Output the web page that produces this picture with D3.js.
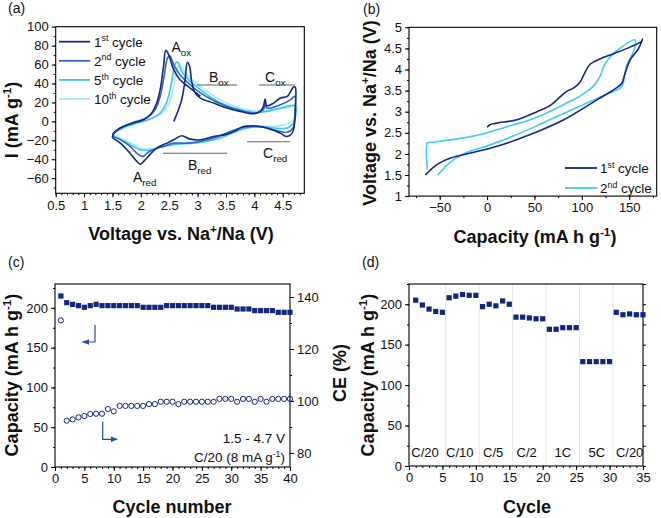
<!DOCTYPE html>
<html><head><meta charset="utf-8">
<script src="https://cdn.jsdelivr.net/npm/d3@7/dist/d3.min.js"></script>
<style>
body{margin:0;background:#fff}
svg{display:block}
text{font-family:"Liberation Sans",Arial,sans-serif;fill:#111}
</style>
</head><body>
<svg id="fig" width="661" height="518"></svg>
<script>
// ---------- DATA ----------
// (a) cyclic voltammetry: [voltage V, current mA/g]
const cv1 = [[2.58,0],[2.64,8.7],[2.72,22.9],[2.78,44],[2.82,62.4],[2.86,58],[2.9,40.5],[2.96,30],[3.05,24.6],[3.28,19.3],[3.52,14],[3.75,10.5],[3.99,8],[4.1,10.5],[4.16,15.8],[4.19,23.5],[4.22,16.5],[4.34,19.3],[4.46,24.6],[4.58,26.4],[4.69,36.3],[4.72,36.3],
 [4.72,12],[4.69,-9],[4.64,-14.4],[4.56,-16],[4.46,-12.6],[4.22,-7],[3.99,-4.7],[3.81,-5.4],[3.64,-10.6],[3.52,-13.5],[3.28,-16],[3.05,-19.5],[2.87,-18.8],[2.72,-15.2],[2.58,-19.5],[2.46,-23],[2.28,-28.2],[2.16,-35.2],[2.05,-42.3],[1.99,-45.2],[1.93,-42.3],[1.81,-33.6],[1.64,-23],[1.51,-17.7],[1.5,-16],
 [1.55,-10.6],[1.69,-5.4],[1.87,-1.8],[2.05,1.7],[2.19,8.7],[2.28,19.3],[2.34,33.5],[2.4,58],[2.44,75],[2.49,70.5],[2.58,54.6],[2.69,44],[2.87,35.2],[3.05,26.4]];
const cv2 = [[1.5,-14],[1.64,-7],[1.87,-1],[2.1,3.5],[2.25,12.3],[2.34,26.4],[2.41,47.5],[2.47,67],[2.51,69.3],[2.58,60],[2.69,49.3],[2.87,38.7],[3.05,30],[3.28,22],[3.52,15.8],[3.75,11.6],[3.99,8.8],[4.16,12.3],[4.19,19.3],[4.22,14],[4.46,17.6],[4.64,22.9],[4.71,26.4],
 [4.72,8.8],[4.68,-7],[4.58,-11.6],[4.4,-9.8],[4.16,-6.3],[3.99,-5.3],[3.75,-7],[3.52,-12.3],[3.28,-17.6],[3.05,-21],[2.81,-23],[2.58,-23],[2.4,-26.4],[2.22,-30],[2.11,-33.6],[2.04,-37],[1.96,-35.2],[1.81,-26.4],[1.64,-19.3],[1.5,-16]];
const cv5 = [[1.5,-13],[1.69,-7],[1.93,-1.8],[2.16,2.5],[2.34,8.8],[2.46,21],[2.55,44],[2.61,61.6],[2.65,62.4],[2.72,52.8],[2.87,42.3],[3.05,33.5],[3.28,23.5],[3.52,16.5],[3.75,12.3],[3.99,9.5],[4.22,10.5],[4.46,14],[4.72,16.5],
 [4.72,3.5],[4.68,-2.5],[4.58,-7],[4.34,-7],[4.1,-5.3],[3.87,-7],[3.64,-11.6],[3.4,-17.6],[3.16,-21],[2.93,-23],[2.69,-23.6],[2.46,-25.7],[2.28,-28.2],[2.16,-30.6],[1.99,-30],[1.81,-24.6],[1.64,-19.3],[1.5,-15]];
const cv10 = [[1.5,-12.3],[1.75,-5.3],[1.99,-1],[2.22,3.5],[2.4,10.5],[2.52,23],[2.59,42.3],[2.65,58],[2.69,60],[2.78,51],[2.93,42.3],[3.11,34],[3.34,24.6],[3.58,17.6],[3.81,13],[4.05,11],[4.28,12.3],[4.52,14],[4.72,15],
 [4.72,5.3],[4.64,-1],[4.46,-4.5],[4.22,-5.3],[3.99,-6.3],[3.75,-8.8],[3.52,-14],[3.28,-18.6],[3.05,-22],[2.81,-23.6],[2.58,-24.6],[2.4,-26.4],[2.22,-29],[2.05,-29],[1.87,-24.6],[1.69,-19.3],[1.5,-14]];
const cvNames = ["1st","2nd","5th","10th"];

// (b) galvanostatic profiles: [capacity mAh/g, voltage V]
const gcd1 = [[0,2.63],[3,2.69],[10.5,2.73],[31.6,2.81],[52.6,3.0],[66.7,3.15],[77,3.35],[84,3.48],[91,3.56],[98,3.7],[103.5,3.94],[109,4.13],[119,4.25],[133,4.37],[151,4.53],[163,4.67],[164,4.72],
 [160,4.5],[151,4.23],[145.7,3.91],[142,3.67],[135,3.54],[116,3.28],[81,2.81],[45.6,2.46],[10.5,2.18],[-17.5,2.02],[-38.6,1.9],[-52.6,1.75],[-63,1.55],[-65,1.5]];
const gcd2 = [[-63,1.63],[-63,2.26],[-60,2.27],[-42,2.32],[-24.6,2.38],[-7,2.46],[10.5,2.57],[28,2.69],[45.6,2.81],[63,2.97],[81,3.17],[98,3.37],[112,3.6],[119,3.83],[123,4.07],[130,4.3],[140,4.5],[156,4.7],
 [154.5,4.42],[147.5,4.11],[145,3.87],[142,3.59],[125,3.4],[100,3.15],[75,2.9],[50,2.64],[25,2.4],[0,2.19],[-25,2.0],[-40,1.78],[-52,1.5]];

// (c) cycling at C/20
const capC = [214.9,206.5,204.4,202.8,200.7,202.8,204.4,202.8,202.8,202.8,202.8,202.8,202.8,202.8,200.7,200.7,200.7,200.7,202.8,202.8,202.8,202.8,202.8,202.8,202.8,202.8,200.7,200.7,200.7,200.7,198.6,198.6,198.6,196.5,196.5,196.5,196.5,194.4,194.4,194.4];
const ceC = [131,92.4,92.9,93.7,94.2,95,95.1,95.1,96.9,96,98.1,98.1,98.1,98.1,98.1,98.8,98.8,99.7,99.7,99.7,98.8,99.7,99.7,99.7,99.7,99.7,99.7,100.8,100.8,100.8,99.7,100.8,100.8,99.7,100.8,99.7,100.8,100.8,100.8,100.8];

// (d) rate capability
const capD = [205,199,194,191,190,208,210,212,211,211,197,200,198,204,200,184,184,183,182,182,169,169,171,171,171,129,129,129,129,129,190,187,188,187,187];
const rateLabels = ["C/20","C/10","C/5","C/2","1C","5C","C/20"];
const ratePos = [2.4,7.6,12.6,17.6,23,28.1,33];
const rateBounds = [5.5,10.5,15.5,20.5,25.5,30.5];

// ---------- DRAWING ----------
const svg = d3.select("#fig");
const navy = "#14257d";
const cvColors = ["#142a85","#2a66cf","#41c3ea","#9aeefb"];
const FONT_T = 13, FONT_TITLE = 18;

function frame(g, x0, x1, y0, y1){
  g.append("rect").attr("x",x0).attr("y",y0).attr("width",x1-x0).attr("height",y1-y0)
   .attr("fill","none").attr("stroke","#000").attr("stroke-width",1.1);
}
function axes(g, x, y, xMajor, xMinor, yMajor, yMinor, xfmt, yfmt){
  const [y0,y1] = y.range(); const [x0,x1] = x.range();
  const gx = g.append("g").attr("transform",`translate(0,${y0})`)
    .call(d3.axisBottom(x).tickValues(xMajor).tickSize(4).tickPadding(3).tickFormat(xfmt||d3.format("")));
  g.append("g").attr("transform",`translate(0,${y0})`)
    .call(d3.axisBottom(x).tickValues(xMinor).tickSize(2).tickFormat(""));
  const gy = g.append("g").attr("transform",`translate(${x0},0)`)
    .call(d3.axisLeft(y).tickValues(yMajor).tickSize(4).tickPadding(3).tickFormat(yfmt||d3.format("")));
  g.append("g").attr("transform",`translate(${x0},0)`)
    .call(d3.axisLeft(y).tickValues(yMinor).tickSize(2).tickFormat(""));
  g.selectAll(".domain").remove();
  g.selectAll(".tick line").attr("stroke","#000");
  g.selectAll(".tick text").attr("font-size",FONT_T).attr("fill","#111");
}
function label(t, x, y){ svg.append("text").attr("x",x).attr("y",y).attr("font-size",14).text(t); }
function sup(el, base, supTxt, rest, size){
  el.append("tspan").text(base);
  el.append("tspan").attr("dy",-size*0.4).attr("font-size",size*0.65).text(supTxt);
  el.append("tspan").attr("dy",size*0.4).text(rest);
}
function sub(el, base, subTxt, size){
  el.append("tspan").text(base);
  el.append("tspan").attr("dy",size*0.3).attr("font-size",size*0.7).text(subTxt);
}
function rng(a,b,s){ const r=[]; for(let v=a; v<=b+1e-9; v+=s) r.push(+v.toFixed(4)); return r; }

// ===== Panel (a) =====
{
  const g = svg.append("g");
  const x = d3.scaleLinear().domain([0.5,4.88]).range([55.7,304.3]);
  const y = d3.scaleLinear().domain([-76,100]).range([193.3,26.7]);
  axes(g, x, y, rng(0.5,4.5,0.5), rng(0.5,4.8,0.1), rng(-60,100,20), rng(-70,100,10), d3.format("~g"));
  const line = d3.line().x(d=>x(d[0])).y(d=>y(d[1])).curve(d3.curveCatmullRom.alpha(0.5));
  const series = [cv10,cv5,cv2,cv1];
  const cols = [cvColors[3],cvColors[2],cvColors[1],cvColors[0]];
  series.forEach((s,i)=>g.append("path").attr("d",line(s)).attr("fill","none").attr("stroke",cols[i]).attr("stroke-width",1.6));
  frame(g,55.7,304.3,26.7,193.3);
  // legend
  cvNames.forEach((n,i)=>{
    const ly = 41.7 + i*19.1;
    g.append("line").attr("x1",59).attr("x2",90).attr("y1",ly).attr("y2",ly).attr("stroke",cvColors[i]).attr("stroke-width",1.8);
    const t = g.append("text").attr("x",94).attr("y",ly+5).attr("font-size",13.5);
    sup(t, n.replace(/\D+$/,""), n.replace(/^\d+/,""), " cycle", 13.5);
  });
  // annotations
  const ann = (t, s, xx, yy) => { const e = g.append("text").attr("x",xx).attr("y",yy).attr("font-size",14); sub(e,t,s,14); };
  ann("A","ox",171.5,52);
  ann("B","ox",209,82);
  ann("C","ox",265,82);
  ann("B","red",188,170);
  ann("C","red",263,158);
  ann("A","red",133,182);
  const hl = (xa,xb,yy)=>g.append("line").attr("x1",xa).attr("x2",xb).attr("y1",yy).attr("y2",yy).attr("stroke","#5b6275").attr("stroke-width",1.1);
  hl(197,237,85); hl(259,295,85); hl(163,227,153.3); hl(247,290,141.7);
  // titles
  const xt = svg.append("text").attr("x",181).attr("y",240).attr("text-anchor","middle").attr("font-size",FONT_TITLE).attr("font-weight","bold");
  sup(xt,"Voltage vs. Na","+","/Na (V)",FONT_TITLE);
  const yt = svg.append("text").attr("transform","translate(18,120) rotate(-90)").attr("text-anchor","middle").attr("font-size",FONT_TITLE).attr("font-weight","bold");
  sup(yt,"I (mA g","-1",")",FONT_TITLE);
  label("(a)",8,13);
}

// ===== Panel (b) =====
{
  const g = svg.append("g");
  const x = d3.scaleLinear().domain([-82.4,179]).range([409,656.7]);
  const y = d3.scaleLinear().domain([1,5]).range([196.1,27.3]);
  axes(g, x, y, rng(-50,150,50), rng(-75,175,25), rng(1,5,0.5), rng(1,5,0.25), d3.format("~g"), d3.format("~g"));
  const line = d3.line().x(d=>x(d[0])).y(d=>y(d[1])).curve(d3.curveCatmullRom.alpha(0.5));
  g.append("path").attr("d",line(gcd2)).attr("fill","none").attr("stroke","#3fcdf5").attr("stroke-width",1.6);
  g.append("path").attr("d",line(gcd1)).attr("fill","none").attr("stroke","#13268a").attr("stroke-width",1.6);
  frame(g,409,656.7,27.3,196.1);
  [["1","st","#13268a",168],["2","nd","#3fcdf5",188]].forEach(d=>{
    g.append("line").attr("x1",565).attr("x2",597).attr("y1",d[3]).attr("y2",d[3]).attr("stroke",d[2]).attr("stroke-width",1.8);
    const t = g.append("text").attr("x",600).attr("y",d[3]+5).attr("font-size",13.5);
    sup(t,d[0],d[1]," cycle",13.5);
  });
  const xt = svg.append("text").attr("x",535).attr("y",243).attr("text-anchor","middle").attr("font-size",FONT_TITLE).attr("font-weight","bold");
  sup(xt,"Capacity (mA h g","-1",")",FONT_TITLE);
  const yt = svg.append("text").attr("transform","translate(376,113) rotate(-90)").attr("text-anchor","middle").attr("font-size",FONT_TITLE).attr("font-weight","bold");
  sup(yt,"Voltage vs. Na","+","/Na (V)",FONT_TITLE);
  label("(b)",363,14);
}

// ===== Panel (c) =====
{
  const g = svg.append("g");
  const x = d3.scaleLinear().domain([0,40]).range([55,290]);
  const y = d3.scaleLinear().domain([0,230]).range([467,284]);
  const y2 = d3.scaleLinear().domain([74.6,145]).range([467,284]);
  axes(g, x, y, rng(0,40,5), rng(0,40,1), rng(0,200,50), rng(0,225,25));
  g.append("g").attr("transform","translate(290,0)").call(d3.axisRight(y2).tickValues([80,100,120,140]).tickSize(4).tickPadding(3));
  g.append("g").attr("transform","translate(290,0)").call(d3.axisRight(y2).tickValues(rng(80,140,10)).tickSize(2).tickFormat(""));
  g.selectAll(".domain").remove();
  g.selectAll(".tick text").attr("font-size",FONT_T).attr("fill","#111");
  frame(g,55,290,284,467);
  g.selectAll(".sq").data(capC).enter().append("rect")
    .attr("x",(d,i)=>x(i+1)-2.6).attr("y",d=>y(d)-2.6).attr("width",5.2).attr("height",5.2).attr("fill",navy);
  g.selectAll(".ce").data(ceC).enter().append("circle")
    .attr("cx",(d,i)=>x(i+1)).attr("cy",d=>y2(d)).attr("r",2.6).attr("fill","none").attr("stroke",navy).attr("stroke-width",1);
  // arrows
  const defs = svg.append("defs");
  defs.append("marker").attr("id","ah").attr("viewBox","0 0 10 10").attr("refX",9).attr("refY",5)
    .attr("markerWidth",6).attr("markerHeight",6).attr("orient","auto")
    .append("path").attr("d","M0,1 L10,5 L0,9 Z").attr("fill","#2448b0");
  g.append("path").attr("d","M95,325 L95,342 L82.7,342").attr("fill","none").attr("stroke","#2448b0").attr("stroke-width",1.2).attr("marker-end","url(#ah)");
  g.append("path").attr("d","M102.7,421.7 L102.7,439.3 L117,439.3").attr("fill","none").attr("stroke","#2448b0").attr("stroke-width",1.2).attr("marker-end","url(#ah)");
  g.append("text").attr("x",285).attr("y",443).attr("text-anchor","end").attr("font-size",13.5).text("1.5 - 4.7 V");
  const t = g.append("text").attr("x",285).attr("y",462).attr("text-anchor","end").attr("font-size",13.5);
  sup(t,"C/20 (8 mA g","-1",")",13.5);
  svg.append("text").attr("x",172).attr("y",513).attr("text-anchor","middle").attr("font-size",FONT_TITLE).attr("font-weight","bold").text("Cycle number");
  const yt = svg.append("text").attr("transform","translate(18,375) rotate(-90)").attr("text-anchor","middle").attr("font-size",FONT_TITLE).attr("font-weight","bold");
  sup(yt,"Capacity (mA h g","-1",")",FONT_TITLE);
  svg.append("text").attr("transform","translate(346,373) rotate(-90)").attr("text-anchor","middle").attr("font-size",FONT_TITLE).attr("font-weight","bold").text("CE (%)");
  label("(c)",8,267);
}

// ===== Panel (d) =====
{
  const g = svg.append("g");
  const x = d3.scaleLinear().domain([0,35]).range([409,643]);
  const y = d3.scaleLinear().domain([0,225]).range([466,284]);
  g.selectAll(".vl").data(rateBounds).enter().append("line")
    .attr("x1",d=>x(d)).attr("x2",d=>x(d)).attr("y1",284).attr("y2",466).attr("stroke","#e4e6ea").attr("stroke-width",1);
  axes(g, x, y, rng(0,35,5), rng(0,35,1), rng(0,200,50), rng(0,225,25));
  // right minor ticks
  g.append("g").attr("transform","translate(643,0)").call(d3.axisRight(y).tickValues(rng(0,225,25)).tickSize(3).tickFormat(""));
  g.selectAll(".domain").remove();
  frame(g,409,643,284,466);
  g.selectAll(".sq").data(capD).enter().append("rect")
    .attr("x",(d,i)=>x(i+1)-2.6).attr("y",d=>y(d)-2.6).attr("width",5.2).attr("height",5.2).attr("fill",navy);
  g.selectAll(".rl").data(rateLabels).enter().append("text")
    .attr("x",(d,i)=>x(ratePos[i])).attr("y",457).attr("text-anchor","middle").attr("font-size",13).text(d=>d);
  svg.append("text").attr("x",527).attr("y",513).attr("text-anchor","middle").attr("font-size",FONT_TITLE).attr("font-weight","bold").text("Cycle");
  const yt = svg.append("text").attr("transform","translate(374,375) rotate(-90)").attr("text-anchor","middle").attr("font-size",FONT_TITLE).attr("font-weight","bold");
  sup(yt,"Capacity (mA h g","-1",")",FONT_TITLE);
  label("(d)",362,267);
}
</script>
</body></html>
